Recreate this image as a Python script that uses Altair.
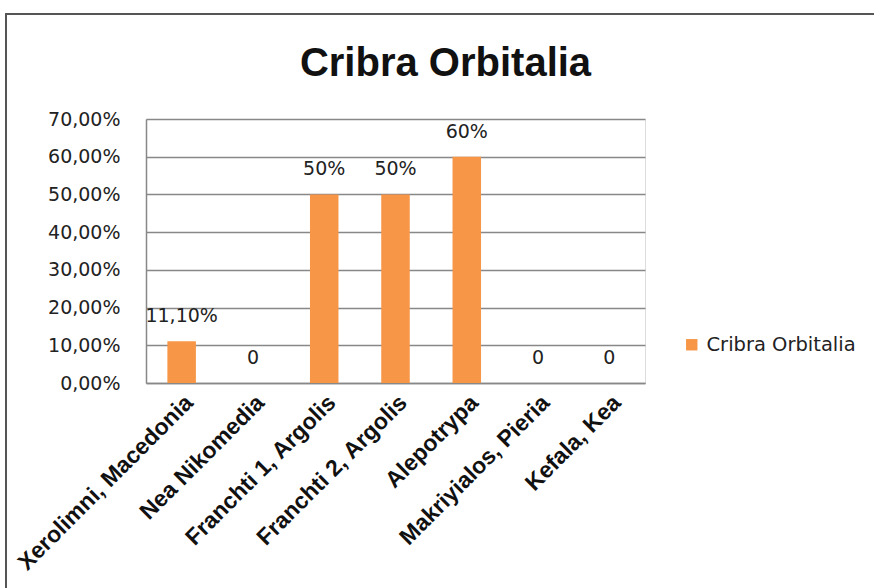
import altair as alt
import pandas as pd

sites = ["Xerolimni, Macedonia", "Nea Nikomedia", "Franchti 1, Argolis",
         "Franchti 2, Argolis", "Alepotrypa", "Makriyialos, Pieria", "Kefala, Kea"]
values = [0.111, 0.0, 0.50, 0.50, 0.60, 0.0, 0.0]
labels = ["11,10%", "0", "50%", "50%", "60%", "0", "0"]
series = "Cribra Orbitalia"
y_ticks = [0, 0.1, 0.2, 0.3, 0.4, 0.5, 0.6, 0.7]

df = pd.DataFrame({"site": sites, "value": values, "label": labels, "series": series})

ORANGE = "#F79646"
FONT = "DejaVu Sans"

x = alt.X("site:N", sort=sites, title=None,
          scale=alt.Scale(paddingInner=0.6, paddingOuter=0.3),
          axis=alt.Axis(labelAngle=-45, labelFont="Liberation Sans", labelFontWeight="bold",
                        labelFontSize=23, labelColor="#111", ticks=False, labelPadding=8,
                        domainColor="#888", domainWidth=1.5, labelLimit=400,
                        labelOverlap=False))
y = alt.Y("value:Q", title=None,
          scale=alt.Scale(domain=[0, 0.7], nice=False),
          axis=alt.Axis(values=y_ticks,
                        labelExpr="replace(format(datum.value, '.2%'), '.', ',')",
                        labelFont=FONT, labelFontSize=19, labelColor="#222",
                        labelOverlap=False, labelFlush=False,
                        ticks=False, labelPadding=26, domainColor="#888", domainWidth=1.5,
                        gridColor="#888", gridWidth=1.5))

base = alt.Chart(df)

bars = base.mark_bar(color=ORANGE).encode(
    x=x, y=y,
    color=alt.Color("series:N", scale=alt.Scale(range=[ORANGE]),
                    legend=alt.Legend(title=None, orient="none", legendX=536, legendY=216,
                                      symbolType="square", symbolSize=130,
                                      labelFont=FONT, labelFontSize=19.5, labelColor="#222",
                                      symbolStrokeWidth=0, labelOffset=5)),
)

text = base.mark_text(font=FONT, fontSize=19, color="#222", baseline="middle", dy=-25).encode(
    x=x, y=y, text="label:N")

frame_top = alt.Chart(df).mark_rule(color="#555", strokeWidth=2).encode(
    x=alt.value(-141), x2=alt.value(760), y=alt.value(-105))
frame_left = alt.Chart(df).mark_rule(color="#555", strokeWidth=2).encode(
    x=alt.value(-140), y=alt.value(-105), y2=alt.value(500))

chart = alt.layer(frame_top, frame_left, bars, text).properties(
    width=499, height=264,
    title=alt.TitleParams("Cribra Orbitalia", font="Liberation Sans", fontSize=40,
                          fontWeight="bold", color="#111", anchor="middle", dx=50, offset=-71),
    autosize=alt.AutoSizeParams(type="none"),
    padding={"left": 146, "top": 119, "right": 229, "bottom": 205},
).configure_view(stroke=None).configure(background="white")

chart.save("out.html", embed_options={"renderer": "svg", "actions": False})
